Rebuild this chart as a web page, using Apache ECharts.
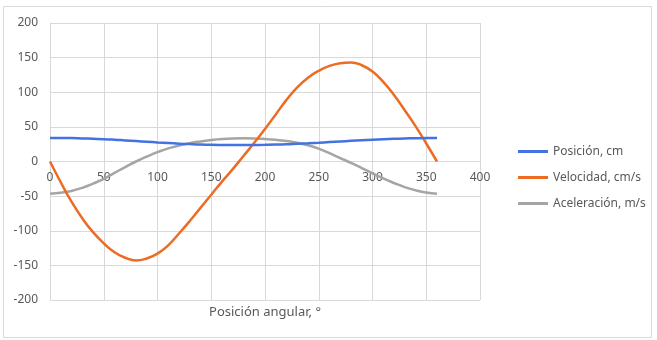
<!DOCTYPE html>
<html>
<head>
<meta charset="utf-8">
<script src="https://cdn.jsdelivr.net/npm/echarts@6/dist/echarts.min.js"></script>
<style>
  html, body { margin: 0; padding: 0; background: #fff; }
  #chart { width: 657px; height: 340px; }
</style>
</head>
<body>
<div id="chart"></div>
<script>
// Angle samples, degrees (every 10°)
var angles = [0, 10, 20, 30, 40, 50, 60, 70, 80, 90, 100, 110, 120, 130, 140, 150, 160, 170, 180,
  190, 200, 210, 220, 230, 240, 250, 260, 270, 280, 290, 300, 310, 320, 330, 340, 350, 360];

// values
var posicion = [34, 34, 33.8, 33.3, 32.8, 32.3, 31.5, 30.5, 29.5, 28.5, 27.5, 26.6, 25.8, 25.1, 24.5, 24.1, 23.9, 23.8, 23.8,
  23.9, 24.1, 24.4, 24.9, 25.6, 26.3, 27.1, 28, 28.9, 29.8, 30.6, 31.4, 32.1, 32.7, 33.2, 33.6, 33.9, 34];
var velocidad = [0, -30, -58, -82, -102, -118, -131, -139, -143, -140, -133, -121, -104, -86, -67, -48, -29, -11, 8,
  27, 47, 68, 89, 107, 121, 131, 138, 142, 143, 139, 130, 115, 96, 74, 51, 26, 0];
var aceleracion = [-46.5, -45, -42.5, -38, -32, -25, -16.5, -8, 0, 7, 13.5, 19, 23, 26.5, 29, 31, 32.5, 33.3, 33.5,
  33.3, 32.5, 31.3, 29.5, 27, 23.5, 18.5, 12, 5, -2, -9.5, -17, -24.5, -31, -37, -41.5, -44.8, -46.5];

var seriesNames = ['Posición, cm', 'Velocidad, cm/s', 'Aceleración, m/s'];
var seriesColors = ['#4472E0', '#EC6C24', '#A5A5A5'];
var xTitle = 'Posición angular, °';

function pairs(ys) {
  return angles.map(function (a, i) { return [a, ys[i]]; });
}

var chart = echarts.init(document.getElementById('chart'), null, { renderer: 'canvas' });
var font = 'Noto Sans';
var textGray = '#595959';
var gridGray = '#d9d9d9';

chart.setOption({
  animation: false,
  color: seriesColors,
  graphic: [{
    type: 'rect',
    shape: { x: 3.5, y: 6.5, width: 648, height: 331 },
    style: { fill: 'none', stroke: gridGray, lineWidth: 1 },
    silent: true
  }],
  grid: { left: 50, top: 23, right: 177, bottom: 40, containLabel: false, outerBoundsMode: 'none' },
  legend: {
    orient: 'vertical',
    left: 513,
    top: 139,
    icon: 'rect',
    itemWidth: 30,
    itemHeight: 3,
    itemGap: 11,
    textStyle: { fontFamily: font, fontSize: 12, color: textGray, lineHeight: 15 },
    data: seriesNames
  },
  xAxis: {
    type: 'value',
    min: 0,
    max: 400,
    interval: 50,
    // axis drawn on the y = 0 line, as in the spreadsheet chart
    offset: -138.5,
    name: xTitle,
    nameLocation: 'middle',
    nameGap: 144,
    nameTextStyle: { fontFamily: font, fontSize: 13, color: textGray },
    axisLine: { onZero: false, lineStyle: { color: gridGray, width: 1 } },
    axisTick: { show: false },
    axisLabel: { fontFamily: font, fontSize: 12, color: textGray, margin: 10 },
    splitLine: { show: true, lineStyle: { color: gridGray, width: 1 } }
  },
  yAxis: {
    type: 'value',
    min: -200,
    max: 200,
    interval: 50,
    axisLine: { show: true, onZero: false, lineStyle: { color: gridGray, width: 1 } },
    axisTick: { show: false },
    axisLabel: { fontFamily: font, fontSize: 12, color: textGray, margin: 12 },
    splitLine: { show: true, lineStyle: { color: gridGray, width: 1 } }
  },
  series: [posicion, velocidad, aceleracion].map(function (ys, i) {
    return {
      name: seriesNames[i],
      type: 'line',
      smooth: 0.5,
      symbol: 'none',
      data: pairs(ys),
      lineStyle: { width: 2.5, color: seriesColors[i] },
      z: 3 - i
    };
  })
});
</script>
</body>
</html>
